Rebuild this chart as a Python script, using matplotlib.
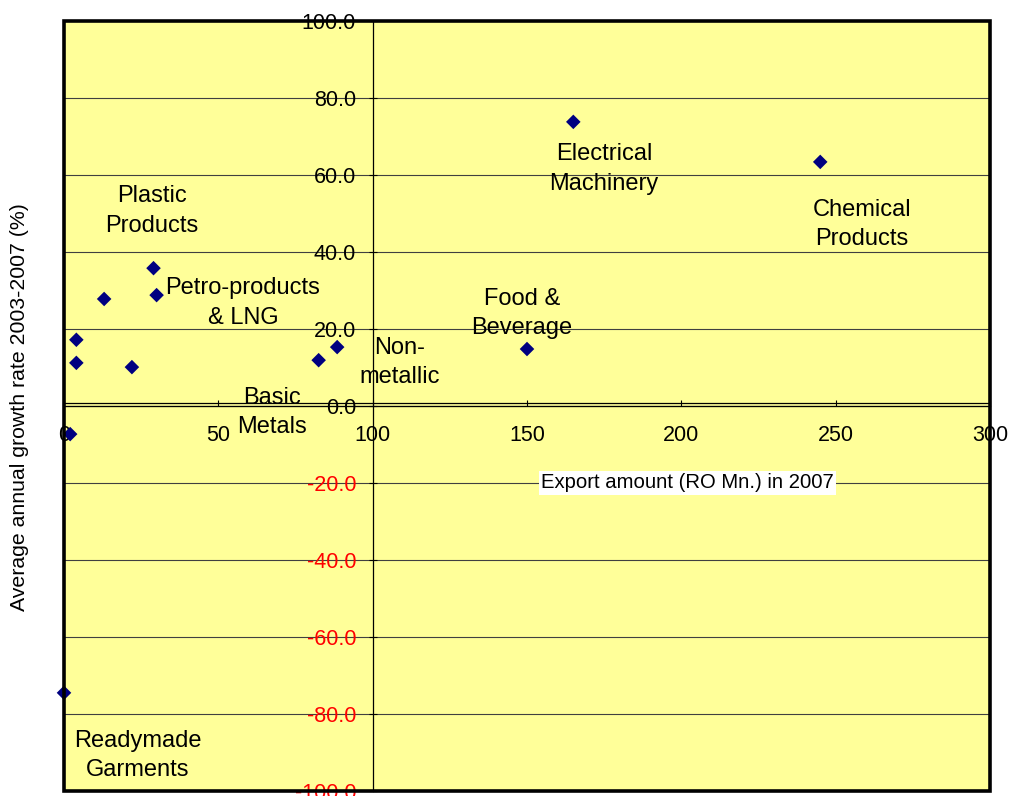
import matplotlib.pyplot as plt
from matplotlib.patches import Rectangle
from matplotlib.transforms import ScaledTranslation

plt.rcParams["font.family"] = ["Liberation Sans", "DejaVu Sans"]

# Export amount (RO Mn.) in 2007 and average annual growth 2003-2007 (%)
export_amount = [0, 2, 4, 4, 13, 22, 29, 30, 82.5, 88.5, 150, 165, 245]
growth_rate = [-74.5, -7.3, 17.2, 11.2, 27.8, 10.1, 35.8, 28.8, 11.9, 15.3, 14.8, 73.8, 63.4]

# sector names and where their text sits on the chart
sector_labels = [
    "Plastic\nProducts", "Petro-products\n& LNG", "Basic\nMetals", "Non-\nmetallic",
    "Food &\nBeverage", "Electrical\nMachinery", "Chemical\nProducts", "Readymade\nGarments",
]
label_x = [28.5, 58, 67.4, 108.8, 148.4, 174.9, 258.5, 24.0]
label_y = [50.6, 26.8, -1.7, 11.3, 24.0, 61.6, 47.1, -90.8]

x_ticks = [0, 50, 100, 150, 200, 250, 300]
y_ticks = [-100, -80, -60, -40, -20, 0, 20, 40, 60, 80, 100]

fig = plt.figure(figsize=(10.1, 7.96), dpi=100)
ax = fig.add_axes([64 / 1010, 5 / 796, 926 / 1010, 770 / 796])
ax.set_facecolor("#FFFF99")
ax.set_xlim(0, 300)
ax.set_ylim(-100, 100)

# horizontal grid
for yv in y_ticks[1:-1]:
    ax.axhline(yv, color="#404040", lw=0.8, zorder=1)
# second line just above the zero axis
shift = ax.transData + ScaledTranslation(0, 2.5 / 72, fig.dpi_scale_trans)
ax.plot([0, 300], [0, 0], color="black", lw=0.9, transform=shift, zorder=1)

# axes cross in the middle of the plot
ax.spines["left"].set_position(("data", 100))
ax.spines["bottom"].set_position(("data", 0))
ax.spines["right"].set_visible(False)
ax.spines["top"].set_visible(False)
ax.spines["left"].set_linewidth(0.9)
ax.spines["bottom"].set_linewidth(0.9)

ax.set_xticks(x_ticks)
ax.set_xticklabels([str(v) for v in x_ticks])
ax.set_yticks(y_ticks)
ax.set_yticklabels([f"{v:.1f}" for v in y_ticks])
for lbl, v in zip(ax.get_yticklabels(), y_ticks):
    lbl.set_color("red" if v < 0 else "black")
ax.tick_params(axis="x", direction="in", length=4, width=0.8, pad=14, labelsize=15.5)
ax.tick_params(axis="y", direction="inout", length=6, width=0.8, pad=9, labelsize=15.5)

ax.scatter(export_amount, growth_rate, marker="D", s=55, color="#000080",
           edgecolors="none", zorder=4, clip_on=False)

for text, tx, ty in zip(sector_labels, label_x, label_y):
    ax.text(tx, ty, text, ha="center", va="center", fontsize=17,
            linespacing=1.45, zorder=3)

ax.text(202, -20, "Export amount (RO Mn.) in 2007", ha="center", va="center",
        fontsize=14.6, zorder=3,
        bbox=dict(facecolor="white", edgecolor="none", pad=1.5))

fig.text(20 / 1010, 0.488, "Average annual growth rate 2003-2007 (%)",
         rotation=90, ha="center", va="center", fontsize=15.3)

# heavy border round the plot area
ax.add_patch(Rectangle((0, 0), 1, 1, transform=ax.transAxes, fill=False,
                       lw=2.6, edgecolor="black", zorder=6, clip_on=False))

fig.savefig("out.png", dpi=100)
